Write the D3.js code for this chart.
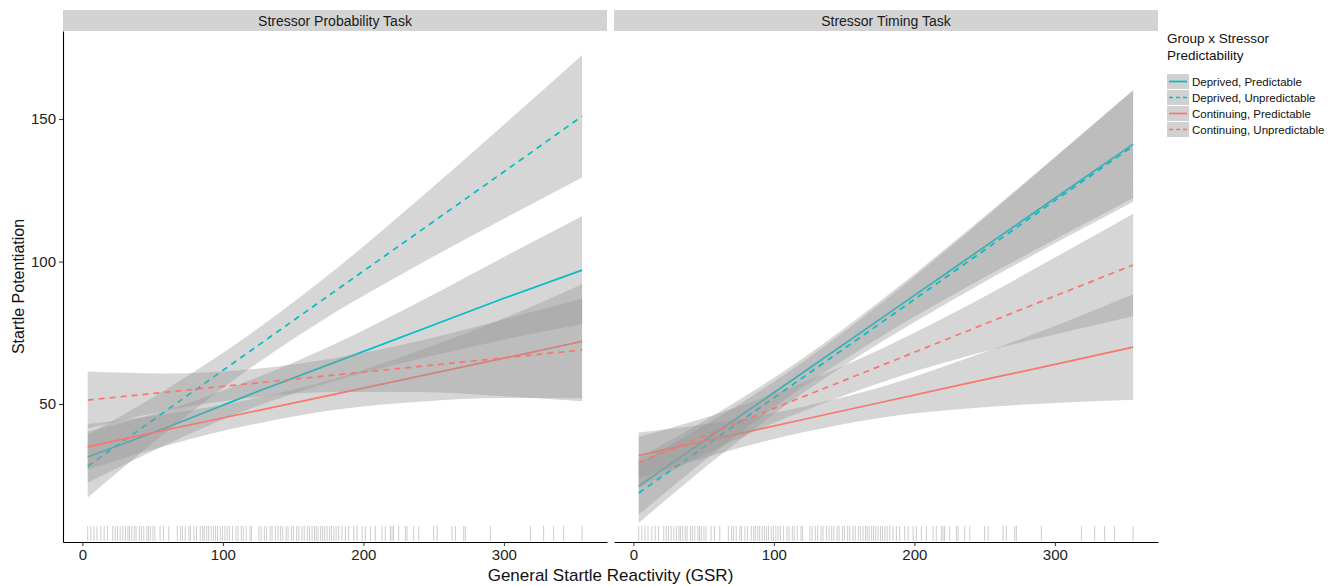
<!DOCTYPE html>
<html>
<head>
<meta charset="utf-8">
<script src="https://cdn.jsdelivr.net/npm/d3@7"></script>
<style>
  body { margin: 0; background: #fff; }
  text { font-family: 'Liberation Sans', Arial, sans-serif; }
</style>
</head>
<body>
<div id="chart"></div>
<script>
// Data
const tasks = ['Stressor Probability Task', 'Stressor Timing Task']
const groups = ['Deprived, Predictable', 'Deprived, Unpredictable', 'Continuing, Predictable', 'Continuing, Unpredictable']
const xTicks = [0, 100, 200, 300]
const yTicks = [50, 100, 150]

// x positions where fit and band were read
const gridX = [3.8, 60, 120, 180, 240, 300, 355.7]

// Stressor Probability Task (rows follow groups)
const probFit = [
  [31.4, 41.8, 53.5, 64.7, 75.9, 87.1, 97.0],
  [28.2, 47.8, 68.8, 89.7, 110.6, 131.5, 151.0],
  [35.0, 41.0, 47.2, 53.5, 59.8, 66.1, 72.0],
  [51.4, 54.2, 57.2, 60.2, 63.2, 66.2, 69.0]
]
const probLow = [
  [22.4, 35.8, 48.5, 58.2, 65.9, 72.6, 78.0],
  [17.2, 40.3, 62.8, 82.2, 99.1, 115.0, 129.5],
  [27.0, 35.5, 42.7, 48.0, 50.8, 52.1, 52.0],
  [41.4, 47.7, 52.2, 54.2, 54.2, 52.7, 51.0]
]
const probHigh = [
  [40.4, 47.8, 58.5, 71.2, 85.9, 101.6, 116.0],
  [39.2, 55.3, 74.8, 97.2, 122.1, 148.0, 172.5],
  [43.0, 46.5, 51.7, 59.0, 68.8, 80.1, 92.0],
  [61.4, 60.7, 62.2, 66.2, 72.2, 79.7, 87.0]
]

// Stressor Timing Task
const timeFit = [
  [21.2, 40.4, 60.8, 81.3, 101.8, 122.2, 141.2],
  [18.8, 38.3, 59.1, 79.8, 100.6, 121.4, 140.5],
  [32.0, 38.0, 44.5, 51.0, 57.5, 63.9, 70.0],
  [29.5, 40.6, 52.4, 64.2, 76.1, 87.9, 98.8]
]
const timeLow = [
  [11.2, 33.9, 55.8, 74.8, 91.8, 107.7, 122.2],
  [8.3, 31.3, 53.6, 72.8, 90.1, 106.4, 121.0],
  [24.0, 32.5, 40.0, 45.5, 48.5, 50.4, 51.5],
  [20.5, 34.6, 47.4, 58.2, 67.1, 74.4, 80.8]
]
const timeHigh = [
  [31.2, 46.9, 65.8, 87.8, 111.8, 136.7, 160.2],
  [29.3, 45.3, 64.6, 86.8, 111.1, 136.4, 160.0],
  [40.0, 43.5, 49.0, 56.5, 66.5, 77.4, 88.5],
  [38.5, 46.6, 57.4, 70.2, 85.1, 101.4, 116.8]
]

// GSR values shown in the rug
const gsr = [
  3.8, 6.0, 8.3, 10.4, 13.1, 15.5, 17.9, 21.6, 23.4, 25.0, 26.9, 28.8, 30.6, 32.4, 33.5, 35.1, 36.9, 38.2, 40.6, 42.0,
  43.7, 45.9, 47.1, 48.4, 50.2, 51.6, 55.3, 57.7, 61.5,
  67.6, 69.9, 71.3, 73.2, 75.8, 77.0, 79.4, 81.2, 83.9, 85.6, 86.8, 88.5, 89.9, 91.7, 93.3, 94.8, 96.2, 98.1, 99.7,
  101.4, 103.0, 104.6, 106.9, 109.3, 110.8, 113.1, 114.5, 116.6, 119.3, 120.4,
  125.6, 127.2, 129.5, 131.1, 133.6, 135.0, 137.4, 139.3, 141.1, 142.6, 145.0, 146.4, 148.8, 150.2, 152.5, 154.0,
  156.3, 157.9, 160.1, 161.6, 163.5, 165.2, 166.4, 167.8, 169.6, 171.0, 172.5, 174.2, 175.9, 177.3, 179.0, 180.6, 182.4,
  184.8, 187.2, 189.5, 193.1, 195.5, 199.1, 201.4, 205.0, 208.5, 213.3, 215.6, 219.2, 220.4, 221.5, 225.1, 229.9,
  231.1, 235.8, 239.4, 250.0, 252.5, 263.1, 265.5, 271.4, 272.6, 290.4, 318.9, 328.3, 335.4, 342.5, 355.7
]

const fits = [probFit, timeFit]
const lows = [probLow, timeLow]
const highs = [probHigh, timeHigh]

// Layout
const W = 1335
const H = 586
const panelW = 544
const panelH = 511
const plotTop = 31
const panelX = [63, 614]
const stripH = 21

const colors = ['#00BFC4', '#00BFC4', '#F8766D', '#F8766D']
const dashes = [null, '6,5', null, '6,5']

const svg = d3.select('#chart').append('svg')
  .attr('width', W)
  .attr('height', H)

const x = d3.scaleLinear().domain([-13.8, 373.4]).range([0, panelW])
const y = d3.scaleLinear().domain([1.6, 180.9]).range([panelH, 0])

tasks.forEach((task, p) => {
  const g = svg.append('g')
    .attr('transform', `translate(${panelX[p]}, ${plotTop})`)

  // Strip
  g.append('rect')
    .attr('x', 0)
    .attr('y', -plotTop + 10)
    .attr('width', panelW)
    .attr('height', stripH)
    .attr('fill', '#d3d3d3')
  g.append('text')
    .attr('x', panelW / 2)
    .attr('y', -plotTop + 10 + stripH / 2 + 5)
    .attr('text-anchor', 'middle')
    .attr('font-size', 14)
    .attr('fill', '#1a1a1a')
    .text(task)

  // Rug
  g.selectAll('.rug')
    .data(gsr)
    .enter()
    .append('line')
    .attr('class', 'rug')
    .attr('x1', d => x(d))
    .attr('x2', d => x(d))
    .attr('y1', panelH - 16)
    .attr('y2', panelH - 1)
    .attr('stroke', '#8c8c8c')
    .attr('stroke-opacity', 0.55)
    .attr('stroke-width', 0.8)

  // Ribbon then line for each group
  groups.forEach((grp, i) => {
    const pts = gridX.map((gx, j) => ({
      x: gx, fit: fits[p][i][j], lo: lows[p][i][j], hi: highs[p][i][j]
    }))

    const area = d3.area()
      .x(d => x(d.x))
      .y0(d => y(d.lo))
      .y1(d => y(d.hi))
      .curve(d3.curveMonotoneX)

    g.append('path')
      .datum(pts)
      .attr('d', area)
      .attr('fill', '#999999')
      .attr('fill-opacity', 0.4)

    const line = d3.line()
      .x(d => x(d.x))
      .y(d => y(d.fit))

    g.append('path')
      .datum(pts)
      .attr('d', line)
      .attr('fill', 'none')
      .attr('stroke', colors[i])
      .attr('stroke-width', 1.7)
      .attr('stroke-dasharray', dashes[i])
  })

  // x axis
  const xAxis = g.append('g')
    .attr('transform', `translate(0, ${panelH})`)
    .call(d3.axisBottom(x).tickValues(xTicks).tickSize(4).tickSizeOuter(0).tickPadding(3))
  xAxis.select('.domain').attr('stroke', '#000').attr('stroke-width', 1.1)
  xAxis.selectAll('.tick line').attr('stroke', '#333')
  xAxis.selectAll('.tick text')
    .attr('font-size', 15)
    .attr('font-family', "'Liberation Sans', Arial, sans-serif")
    .attr('fill', '#222')

  // y axis (left panel only)
  if (p === 0) {
    const yAxis = g.append('g')
      .call(d3.axisLeft(y).tickValues(yTicks).tickSize(4).tickSizeOuter(0).tickPadding(3))
    yAxis.select('.domain').attr('stroke', '#000').attr('stroke-width', 1.1)
    yAxis.selectAll('.tick line').attr('stroke', '#333')
    yAxis.selectAll('.tick text')
      .attr('font-size', 15)
      .attr('font-family', "'Liberation Sans', Arial, sans-serif")
      .attr('fill', '#222')
  }
})

// Axis titles
svg.append('text')
  .attr('x', (panelX[0] + panelX[1] + panelW) / 2)
  .attr('y', 581)
  .attr('text-anchor', 'middle')
  .attr('font-size', 17)
  .attr('fill', '#111')
  .text('General Startle Reactivity (GSR)')

svg.append('text')
  .attr('transform', `translate(24, ${plotTop + panelH / 2}) rotate(-90)`)
  .attr('text-anchor', 'middle')
  .attr('font-size', 16)
  .attr('fill', '#111')
  .text('Startle Potentiation')

// Legend
const legend = svg.append('g')
  .attr('transform', 'translate(1167, 0)')

legend.append('text')
  .attr('x', 0)
  .attr('y', 43)
  .attr('font-size', 13.5)
  .attr('fill', '#111')
  .text('Group x Stressor')
legend.append('text')
  .attr('x', 0)
  .attr('y', 60)
  .attr('font-size', 13.5)
  .attr('fill', '#111')
  .text('Predictability')

groups.forEach((grp, i) => {
  const ky = 74 + i * 16
  legend.append('rect')
    .attr('x', 0)
    .attr('y', ky)
    .attr('width', 22)
    .attr('height', 15)
    .attr('fill', '#999999')
    .attr('fill-opacity', 0.45)
  legend.append('line')
    .attr('x1', 2)
    .attr('x2', 20)
    .attr('y1', ky + 7.5)
    .attr('y2', ky + 7.5)
    .attr('stroke', colors[i])
    .attr('stroke-width', 1.7)
    .attr('stroke-dasharray', dashes[i] ? '4,3' : null)
  legend.append('text')
    .attr('x', 25)
    .attr('y', ky + 11.5)
    .attr('font-size', 11.5)
    .attr('fill', '#111')
    .text(grp)
})
</script>
</body>
</html>
